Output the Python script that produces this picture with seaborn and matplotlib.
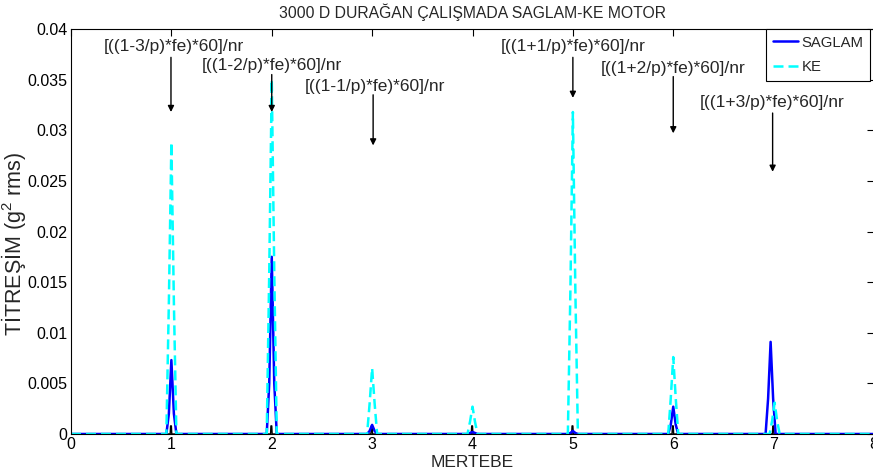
import numpy as np
import pandas as pd
import matplotlib
matplotlib.use("Agg")
import matplotlib.pyplot as plt
from matplotlib.ticker import FuncFormatter, MultipleLocator
import seaborn as sns

# ---- data ----
peak_orders = [1, 2, 3, 4, 5, 6, 7]
saglam_peak = [0.0073, 0.0175, 0.0009, 0.0002, 0.0003, 0.0027, 0.0091]
saglam_shoulder = [0.0020, 0.0050, 0.0003, 0.0001, 0.0001, 0.0009, 0.0035]
saglam_center = [1.00, 2.00, 3.00, 4.00, 5.00, 6.00, 6.97]
ke_peak = [0.0288, 0.0350, 0.0065, 0.0027, 0.0318, 0.0076, 0.0031]
ke_shoulder = [0.0130, 0.0160, 0.0030, 0.0012, 0.0140, 0.0035, 0.0013]
ke_center = [1.00, 2.00, 3.00, 4.00, 5.00, 6.00, 7.01]
ref_peak = [0.0008, 0.0008, 0.0008, 0.0008, 0.0008, 0.0008, 0.0008]

annot_labels = ["[((1-3/p)*fe)*60]/nr", "[((1-2/p)*fe)*60]/nr", "[((1-1/p)*fe)*60]/nr",
                "[((1+1/p)*fe)*60]/nr", "[((1+2/p)*fe)*60]/nr", "[((1+3/p)*fe)*60]/nr"]
annot_x = [0.996, 2.0, 3.01, 5.0, 6.0, 6.99]
annot_text_x = [1.02, 2.0, 3.03, 5.0, 6.0, 6.99]
annot_text_y = [0.0383, 0.03635, 0.0343, 0.0383, 0.0361, 0.0327]
annot_tail_y = [0.0372, 0.0355, 0.0335, 0.0372, 0.0353, 0.0317]
annot_tip_y = [0.0318, 0.0318, 0.0285, 0.0332, 0.0297, 0.0259]

x_min, x_max = 0, 8


def peak_series(centers, peaks, shoulders, half=0.05):
    xs, ys = [x_min], [0.0]
    for c, p, s in zip(centers, peaks, shoulders):
        xs += [c - half, c - half / 2, c, c + half / 2, c + half]
        ys += [0.0, s, p, s, 0.0]
    xs.append(x_max)
    ys.append(0.0)
    return xs, ys


sx, sy = peak_series(saglam_center, saglam_peak, saglam_shoulder)
kx, ky = peak_series(ke_center, ke_peak, ke_shoulder)
rx, ry = [x_min], [0.0]
for c, p in zip(peak_orders, ref_peak):
    rx += [c - 0.012, c - 0.008, c, c + 0.004]
    ry += [0.0, p, p, 0.0]
rx.append(x_max)
ry.append(0.0)

# ---- style ----
sns.set_style("white")
plt.rcParams["font.family"] = ["Liberation Sans", "DejaVu Sans"]
plt.rcParams["mathtext.fontset"] = "custom"
plt.rcParams["mathtext.rm"] = "Liberation Sans"
plt.rcParams["mathtext.default"] = "regular"

fig = plt.figure(figsize=(8.73, 4.74), dpi=100)
ax = fig.add_axes([71 / 873, 40 / 474, 803 / 873, 405 / 474])

sns.lineplot(x=rx, y=ry, ax=ax, color="black", lw=1.0, estimator=None, sort=False)
sns.lineplot(x=sx, y=sy, ax=ax, color="#0000ff", lw=1.8, estimator=None, sort=False,
             label="SAGLAM")
sns.lineplot(x=kx, y=ky, ax=ax, color="#00ffff", lw=1.8, estimator=None, sort=False,
             label="KE")
ax.lines[-1].set_dashes((4, 2))

ax.set_xlim(x_min, x_max)
ax.set_ylim(0, 0.04)
ax.xaxis.set_major_locator(MultipleLocator(1))
ax.yaxis.set_major_locator(MultipleLocator(0.005))
ax.yaxis.set_major_formatter(FuncFormatter(lambda v, p: "%g" % round(v, 4)))
ax.tick_params(direction="in", length=5, width=0.8, top=True, right=True,
               labelsize=11.5, colors="black", pad=2.5)
for s in ax.spines.values():
    s.set_visible(True)
    s.set_color("black")
    s.set_linewidth(0.8)

ax.set_title("3000 D DURAĞAN ÇALIŞMADA SAGLAM-KE MOTOR", fontsize=11.3, pad=8)
ax.set_xlabel("MERTEBE", fontsize=12.5, labelpad=1.5)
ax.set_ylabel("TİTREŞİM (g$^{2}$ rms)", fontsize=15.5)
ax.yaxis.set_label_coords(-0.054, 0.47)

for lab, xa, xt, yt, ytail, ytip in zip(annot_labels, annot_x, annot_text_x,
                                         annot_text_y, annot_tail_y, annot_tip_y):
    ax.text(xt, yt, lab, ha="center", va="center", fontsize=12.5)
    ax.annotate("", xy=(xa, ytip), xytext=(xa, ytail),
                arrowprops=dict(arrowstyle="-|>", color="black", lw=1.0,
                                mutation_scale=9, shrinkA=0, shrinkB=0))

leg = ax.legend(loc="upper right", bbox_to_anchor=(0.995, 1.0), fontsize=10.7,
                frameon=True, fancybox=False, edgecolor="black", framealpha=1,
                borderaxespad=0, handlelength=1.7, labelspacing=0.7, borderpad=0.45,
                handletextpad=0.2)
leg.get_frame().set_linewidth(0.8)

fig.savefig("out.png", dpi=100)
